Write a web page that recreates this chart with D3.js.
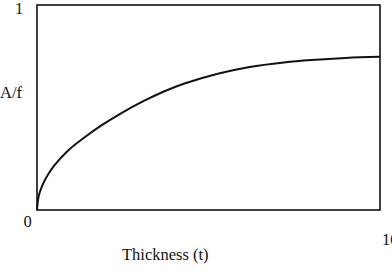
<!DOCTYPE html>
<html><head><meta charset="utf-8">
<script src="https://cdn.jsdelivr.net/npm/d3@7"></script>
<style>html,body{margin:0;padding:0;background:#fff;}svg{display:block;}</style>
</head><body>
<svg id="c" width="392" height="275"></svg>
<script>
const thickness = [0, 0.05, 0.15, 0.3, 0.5, 0.9, 1.4, 1.9, 2.4, 3.1, 3.7, 4.3, 5.3, 6.2, 7.2, 8, 9, 10];
const ratio = [0, 0.068, 0.118, 0.167, 0.216, 0.289, 0.356, 0.415, 0.467, 0.531, 0.578, 0.617, 0.666, 0.698, 0.72, 0.732, 0.742, 0.747];
const xTickLabels = ["0", "10"];
const yTickLabels = ["1"];
const xTitle = "Thickness (t)";
const yTitle = "A/f";

const svg = d3.select("#c");
const font = "'Liberation Serif','Times New Roman',serif";
const x = d3.scaleLinear().domain([0, 10]).range([37, 380]);
const y = d3.scaleLinear().domain([0, 1]).range([210, 5]);

svg.append("rect").attr("x", x(0)).attr("y", y(1))
  .attr("width", x(10) - x(0)).attr("height", y(0) - y(1))
  .attr("fill", "none").attr("stroke", "#111").attr("stroke-width", 1.6);

const data = thickness.map((t, i) => [t, ratio[i]]);
svg.append("path").datum(data)
  .attr("d", d3.line().x(d => x(d[0])).y(d => y(d[1])).curve(d3.curveCatmullRom.alpha(0.5)))
  .attr("fill", "none").attr("stroke", "#111").attr("stroke-width", 2);

const txt = (s, px, py, anchor) => svg.append("text").text(s)
  .attr("x", px).attr("y", py).attr("text-anchor", anchor || "start")
  .attr("font-family", font).attr("font-size", 16.5).attr("fill", "#111");

txt(yTickLabels[0], x(0) - 18, y(1) + 9, "middle");
txt(xTickLabels[0], x(0) - 9.5, y(0) + 17, "middle");
txt(xTickLabels[1], x(10) + 2, y(0) + 35, "start");
txt(yTitle, 0, 98, "start");
txt(xTitle, 122, 260, "start");
</script>
</body></html>
